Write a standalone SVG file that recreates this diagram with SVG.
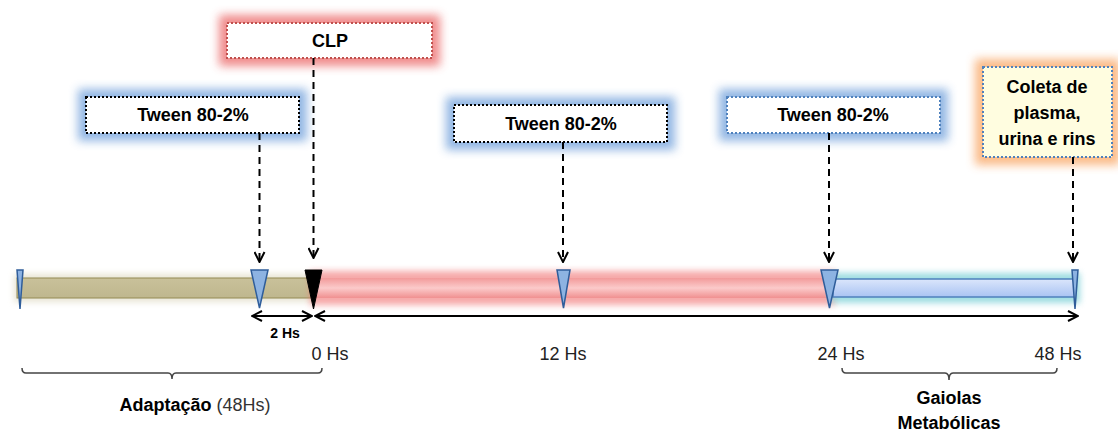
<svg xmlns="http://www.w3.org/2000/svg" width="1118" height="437" viewBox="0 0 1118 437">
<defs>
<filter id="glow" x="-30%" y="-60%" width="160%" height="220%"><feGaussianBlur stdDeviation="5"/></filter>
<filter id="glowS" x="-10%" y="-100%" width="120%" height="300%"><feGaussianBlur stdDeviation="3"/></filter>
<linearGradient id="redG" x1="0" y1="0" x2="0" y2="1"><stop offset="0" stop-color="#f29a9a"/><stop offset="0.5" stop-color="#fbcaca"/><stop offset="1" stop-color="#f09090"/></linearGradient>
<linearGradient id="blueG" x1="0" y1="0" x2="0" y2="1"><stop offset="0" stop-color="#dbe6fb"/><stop offset="1" stop-color="#a9c3f2"/></linearGradient>
<linearGradient id="tanG" x1="0" y1="0" x2="0" y2="1"><stop offset="0" stop-color="#c9c19a"/><stop offset="1" stop-color="#bfb78e"/></linearGradient>
<marker id="ah" viewBox="0 0 12 12" refX="11" refY="6" markerWidth="12" markerHeight="12" markerUnits="userSpaceOnUse" orient="auto-start-reverse"><path d="M1,1 L11,6 L1,11" fill="none" stroke="#000" stroke-width="2"/></marker>
<marker id="ah2" viewBox="0 0 12 12" refX="11" refY="6" markerWidth="12" markerHeight="12" markerUnits="userSpaceOnUse" orient="auto-start-reverse"><path d="M1,1 L11,6 L1,11" fill="none" stroke="#000" stroke-width="2"/></marker>
</defs>
<style>
.box{fill:#fff;stroke-width:2;stroke-dasharray:2 2}
.lbl{font-family:"Liberation Sans",Arial,sans-serif;font-weight:bold;font-size:18px;fill:#000;text-anchor:middle}
.hs{font-family:"Liberation Sans",Arial,sans-serif;font-size:18px;fill:#222;text-anchor:middle}
.dash{stroke:#000;stroke-width:2;stroke-dasharray:7 5;fill:none}
.mk{fill:#8db3e2;stroke:#2f5d9a;stroke-width:1.5}
.brace{fill:none;stroke:#444;stroke-width:1.5}
.gb{fill:#8db3e2;opacity:0.95}
</style>

<!-- bars -->
<g id="bars">
<rect x="14" y="274" width="300" height="28" fill="#d8d3b8" filter="url(#glowS)" opacity="0.6"/>
<rect x="17" y="278" width="296" height="20" fill="url(#tanG)" stroke="#948a54" stroke-width="1"/>
<rect x="310" y="271" width="525" height="34" fill="#f07070" filter="url(#glowS)" opacity="0.6"/>
<rect x="313" y="278" width="520" height="20" fill="url(#redG)"/>
<rect x="830" y="273" width="250" height="30" fill="#86d4da" filter="url(#glowS)" opacity="0.8"/>
<rect x="833" y="279" width="242" height="18" fill="url(#blueG)" stroke="#4f81bd" stroke-width="1.5"/>
</g>

<!-- markers -->
<g id="markers">
<path class="mk" d="M17,270 L23,270 L20,309 Z"/>
<path class="mk" d="M251,270 L268,270 L259.5,308 Z"/>
<path d="M305,270 L322,270 L313.5,309 Z" fill="#000" stroke="#000" stroke-width="1"/>
<path class="mk" d="M557,270 L570,270 L563.5,308 Z"/>
<path class="mk" d="M821,270 L838,270 L829.5,308 Z"/>
<path class="mk" d="M1072,270 L1078,270 L1075,309 Z"/>
</g>

<!-- nodes -->
<g id="clp">
<rect x="219" y="15" width="221" height="51" fill="#ee7f7f" filter="url(#glow)" opacity="0.9"/>
<rect class="box" x="227" y="23" width="205" height="35" stroke="#c0504d"/>
<text class="lbl" x="330" y="47">CLP</text>
</g>
<g id="tween1">
<rect class="gb" x="78" y="89" width="229" height="52" filter="url(#glow)"/>
<rect class="box" x="86" y="97" width="213" height="36" stroke="#000"/>
<text class="lbl" x="193" y="121">Tween 80-2%</text>
</g>
<g id="tween2">
<rect class="gb" x="446" y="97" width="229" height="53" filter="url(#glow)"/>
<rect class="box" x="454" y="105" width="213" height="37" stroke="#000"/>
<text class="lbl" x="561" y="130">Tween 80-2%</text>
</g>
<g id="tween3">
<rect class="gb" x="719" y="89" width="229" height="52" filter="url(#glow)"/>
<rect class="box" x="727" y="97" width="213" height="36" stroke="#4f81bd"/>
<text class="lbl" x="833" y="121">Tween 80-2%</text>
</g>
<g id="coleta">
<rect x="975" y="59" width="145" height="106" fill="#fab37a" filter="url(#glow)" opacity="0.9"/>
<rect x="983" y="67" width="129" height="90" fill="#fffde0" stroke="#4f81bd" stroke-width="2" stroke-dasharray="2 2"/>
<text class="lbl" x="1047" y="93">Coleta de</text>
<text class="lbl" x="1047" y="119">plasma,</text>
<text class="lbl" x="1047" y="145">urina e rins</text>
</g>

<!-- connectors -->
<g id="connectors">
<line class="dash" x1="313.5" y1="58" x2="313.5" y2="258" marker-end="url(#ah)"/>
<line class="dash" x1="259.5" y1="133" x2="259.5" y2="262" marker-end="url(#ah)"/>
<line class="dash" x1="563" y1="142" x2="563" y2="262" marker-end="url(#ah)"/>
<line class="dash" x1="829" y1="133" x2="829" y2="262" marker-end="url(#ah)"/>
<line class="dash" x1="1073" y1="157" x2="1073" y2="262" marker-end="url(#ah)"/>
<line x1="252" y1="316" x2="312" y2="316" stroke="#000" stroke-width="2" marker-start="url(#ah2)" marker-end="url(#ah2)"/>
<line x1="315" y1="316" x2="1078" y2="316" stroke="#000" stroke-width="2" marker-start="url(#ah2)" marker-end="url(#ah2)"/>
</g>

<!-- labels -->
<g id="labels">
<text x="285" y="338" style="font-family:'Liberation Sans',Arial,sans-serif;font-weight:bold;font-size:14px;text-anchor:middle">2 Hs</text>
<text class="hs" x="330" y="360">0 Hs</text>
<text class="hs" x="563" y="360">12 Hs</text>
<text class="hs" x="841" y="360">24 Hs</text>
<text class="hs" x="1058" y="360">48 Hs</text>
</g>

<g id="brace-adaptacao">
<path class="brace" d="M22,368 Q22,373 26,373 L168,373 Q172,373 172,379 Q172,373 176,373 L318,373 Q322,373 322,368"/>
<text x="195" y="411" style="font-family:'Liberation Sans',Arial,sans-serif;font-size:18px;text-anchor:middle"><tspan font-weight="bold" fill="#000">Adaptação</tspan> <tspan fill="#333">(48Hs)</tspan></text>
</g>
<g id="brace-gaiolas">
<path class="brace" d="M842,368 Q842,373 846,373 L945,373 Q949,373 949,380 Q949,373 953,373 L1053,373 Q1057,373 1057,368"/>
<text class="lbl" x="949" y="404">Gaiolas</text>
<text class="lbl" x="949" y="429">Metabólicas</text>
</g>
</svg>
